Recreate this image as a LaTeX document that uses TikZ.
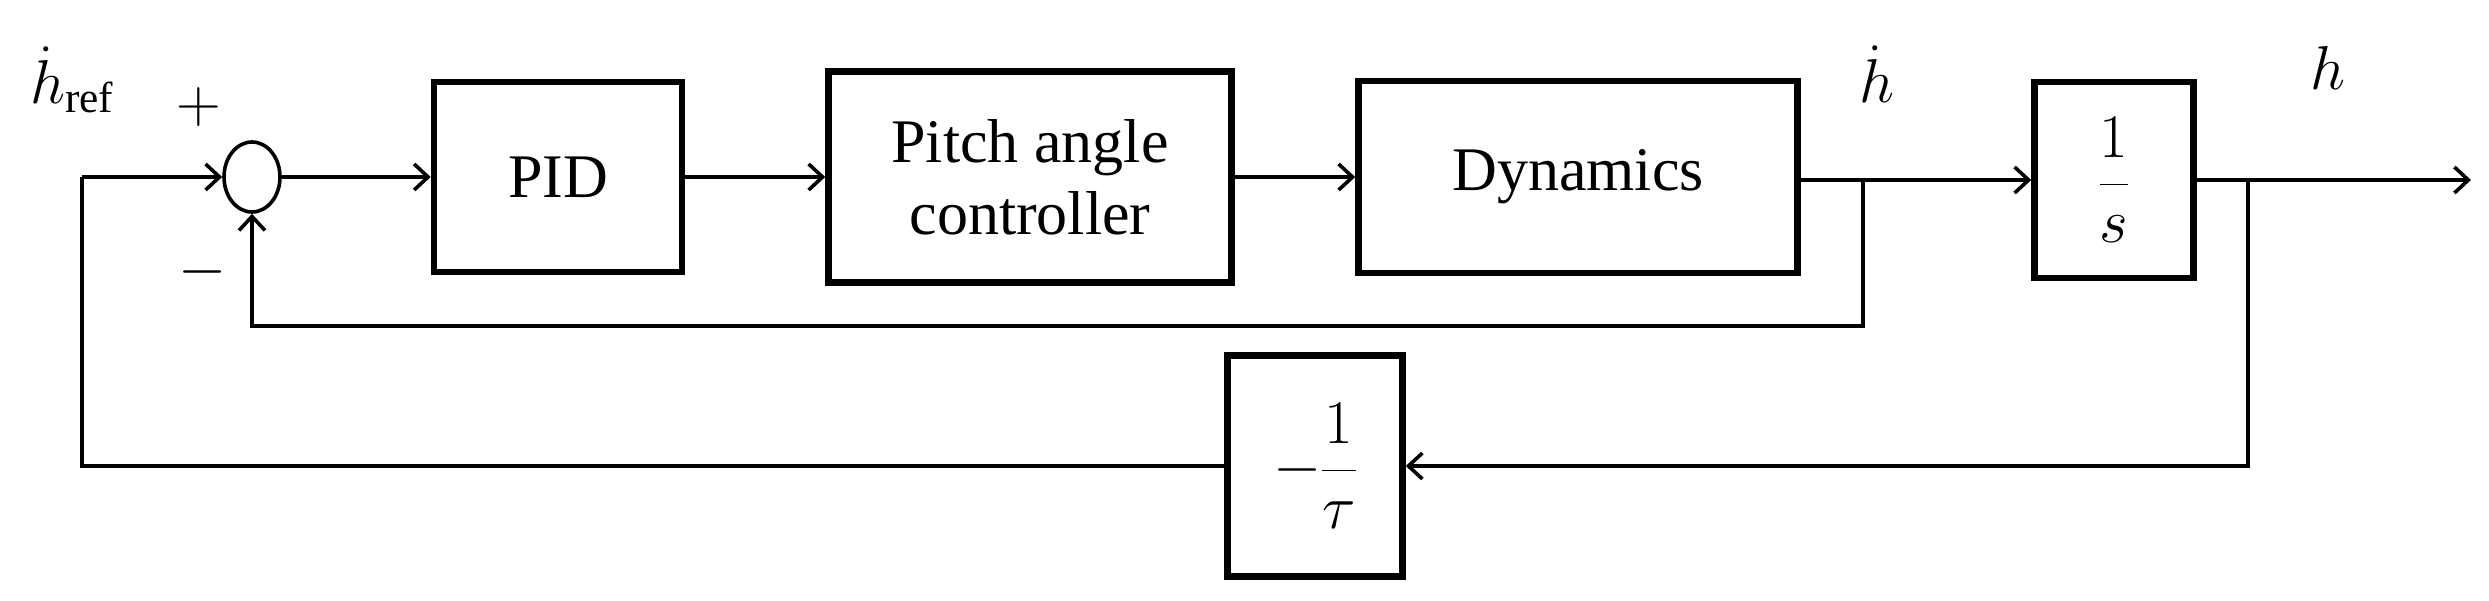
\documentclass[tikz,border=0pt]{standalone}
\usepackage{fix-cm}
\usepackage{amsmath}
\usepackage{fontspec}
\setmainfont{Liberation Serif}
\usetikzlibrary{arrows.meta,shapes.geometric}
\begin{document}
\begin{tikzpicture}[x=1pt,y=-1pt,
  blk/.style={draw,line width=6.5pt,rectangle,inner sep=0pt,font=\fontsize{62}{66}\selectfont,align=center},
  con/.style={line width=3.6pt},
  arr/.style={con,-{Straight Barb[length=14pt,width=26pt,line width=3.6pt]}},
  lbl/.style={font=\fontsize{62}{64}\selectfont,inner sep=0pt}]
\useasboundingbox (0,0) rectangle (2489,600);
\node[draw,ellipse,line width=3.6pt,minimum width=56pt,minimum height=70pt,inner sep=0pt] (sum) at (252,177) {};
\node[blk,minimum width=248pt,minimum height=190pt] (pid) at (558,177) {PID};
\node[blk,minimum width=403pt,minimum height=211pt] (pac) at (1030,177) {Pitch angle\\[6pt]controller};
\node[blk,minimum width=439pt,minimum height=192pt] (dyn) at (1578,177) {Dynamics};
\node[blk,minimum width=159pt,minimum height=196pt] (int) at (2114,180) {$\dfrac{1}{s}$};
\node[blk,minimum width=175pt,minimum height=221pt] (tau) at (1315,466) {$-\dfrac{1}{\tau}$};
\coordinate (l) at (82,177);
\coordinate (t1) at (1863,180);
\coordinate (t2) at (2248,180);
\coordinate (out) at (2471,180);
\node[lbl] (hr) at (72,80) {$\dot h_{\mathrm{ref}}$};
\node[lbl] (hd) at (1877,74) {$\dot h$};
\node[lbl] (h) at (2328,68) {$h$};
\node[lbl] (pl) at (199,107) {$+$};
\node[lbl] (mi) at (203,272) {$-$};
\draw[arr] (l) -- (sum.west);
\draw[arr] (sum.east) -- (pid.west);
\draw[arr] (pid.east) -- (pac.west);
\draw[arr] (pac.east) -- (dyn.west);
\draw[arr] (dyn.east |- t1) -- (int.west |- t1);
\draw[arr] (int.east |- t2) -- (out);
\draw[arr] (t1) -- (t1 |- 0,326) -- (sum.south |- 0,326) -- (sum.south);
\draw[arr] (t2) -- (t2 |- tau.east) -- (tau.east);
\draw[con] (tau.west) -- (l |- tau.west) -- (l);
\end{tikzpicture}
\end{document}
